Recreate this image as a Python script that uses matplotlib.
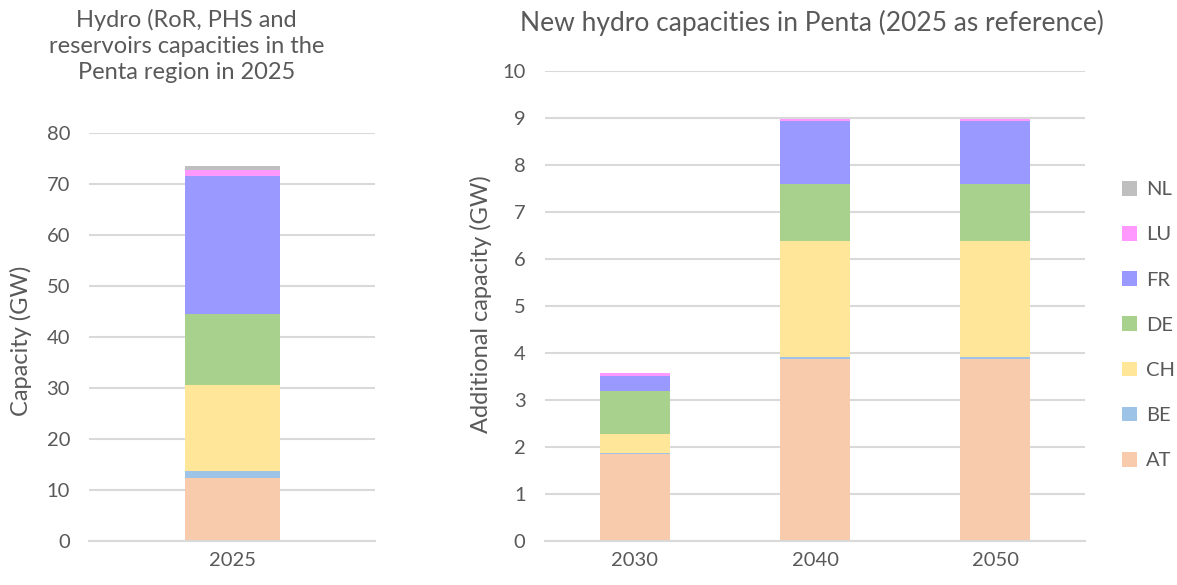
import matplotlib.pyplot as plt
import numpy as np

plt.rcParams['font.family'] = ['Lato', 'DejaVu Sans']

countries = ['AT', 'BE', 'CH', 'DE', 'FR', 'LU', 'NL']
colors = ['#F8CBAD', '#9DC3E6', '#FFE699', '#A9D18E', '#9999FF', '#FF99FF', '#BFBFBF']

# Installed hydro capacity 2025 (GW)
cap_2025 = [12.45, 1.35, 16.8, 13.9, 27.0, 1.2, 0.8]

# Additional capacity vs 2025 (GW)
years = ['2030', '2040', '2050']
add_cap = {
    'AT': [1.86, 3.88, 3.88],
    'BE': [0.02, 0.03, 0.03],
    'CH': [0.39, 2.47, 2.47],
    'DE': [0.93, 1.22, 1.22],
    'FR': [0.32, 1.34, 1.34],
    'LU': [0.06, 0.05, 0.05],
    'NL': [0.0, 0.0, 0.0],
}

text_col = '#595959'
grid_col = '#D9D9D9'

fig = plt.figure(figsize=(11.77, 5.85), dpi=100)
ax1 = fig.add_axes([0.076, 0.075, 0.243, 0.698])
ax2 = fig.add_axes([0.463, 0.075, 0.459, 0.803])

def style(ax):
    for s in ['top', 'right', 'left']:
        ax.spines[s].set_visible(False)
    ax.spines['bottom'].set_color(grid_col)
    ax.spines['bottom'].set_linewidth(1.5)
    ax.yaxis.grid(True, color=grid_col, linewidth=1.5)
    ax.set_axisbelow(True)
    ax.tick_params(length=0, colors=text_col, labelsize=14.5)
    ax.tick_params(axis='y', pad=14)
    ax.tick_params(axis='x', pad=8)

# left chart
bottom = 0
for c, v, col in zip(countries, cap_2025, colors):
    ax1.bar([0], [v], width=0.33, bottom=bottom, color=col)
    bottom += v
ax1.set_xlim(-0.5, 0.5)
ax1.set_ylim(0, 80)
ax1.set_yticks(np.arange(0, 81, 10))
ax1.set_xticks([0])
ax1.set_xticklabels(['2025'])
style(ax1)
ax1.set_ylabel('Capacity (GW)', fontsize=17, color=text_col)
ax1.yaxis.set_label_coords(-0.2, 0.49)
fig.text(0.1585, 0.985, 'Hydro (RoR, PHS and\nreservoirs capacities in the\nPenta region in 2025',
         ha='center', va='top', fontsize=17, color=text_col, linespacing=1.3)

# right chart
x = np.arange(len(years))
bottom = np.zeros(len(years))
handles = []
for c, col in zip(countries, colors):
    vals = np.array(add_cap[c])
    h = ax2.bar(x, vals, width=0.385, bottom=bottom, color=col, label=c)
    handles.append(h)
    bottom += vals
ax2.set_xlim(-0.5, 2.5)
ax2.set_ylim(0, 10)
ax2.set_yticks(np.arange(0, 11, 1))
ax2.set_xticks(x)
ax2.set_xticklabels(years)
style(ax2)
ax2.set_ylabel('Additional capacity (GW)', fontsize=17, color=text_col)
ax2.yaxis.set_label_coords(-0.098, 0.505)
fig.text(0.69, 0.961, 'New hydro capacities in Penta (2025 as reference)', fontsize=19,
         color=text_col, ha='center', va='center')

leg = ax2.legend(handles[::-1], countries[::-1], loc='center left',
                 bbox_to_anchor=(1.035, 0.46), frameon=False, fontsize=14.5,
                 labelspacing=1.38, handlelength=0.75, handleheight=0.75,
                 handletextpad=0.45)
for t in leg.get_texts():
    t.set_color(text_col)

plt.savefig('out.png', dpi=100)
